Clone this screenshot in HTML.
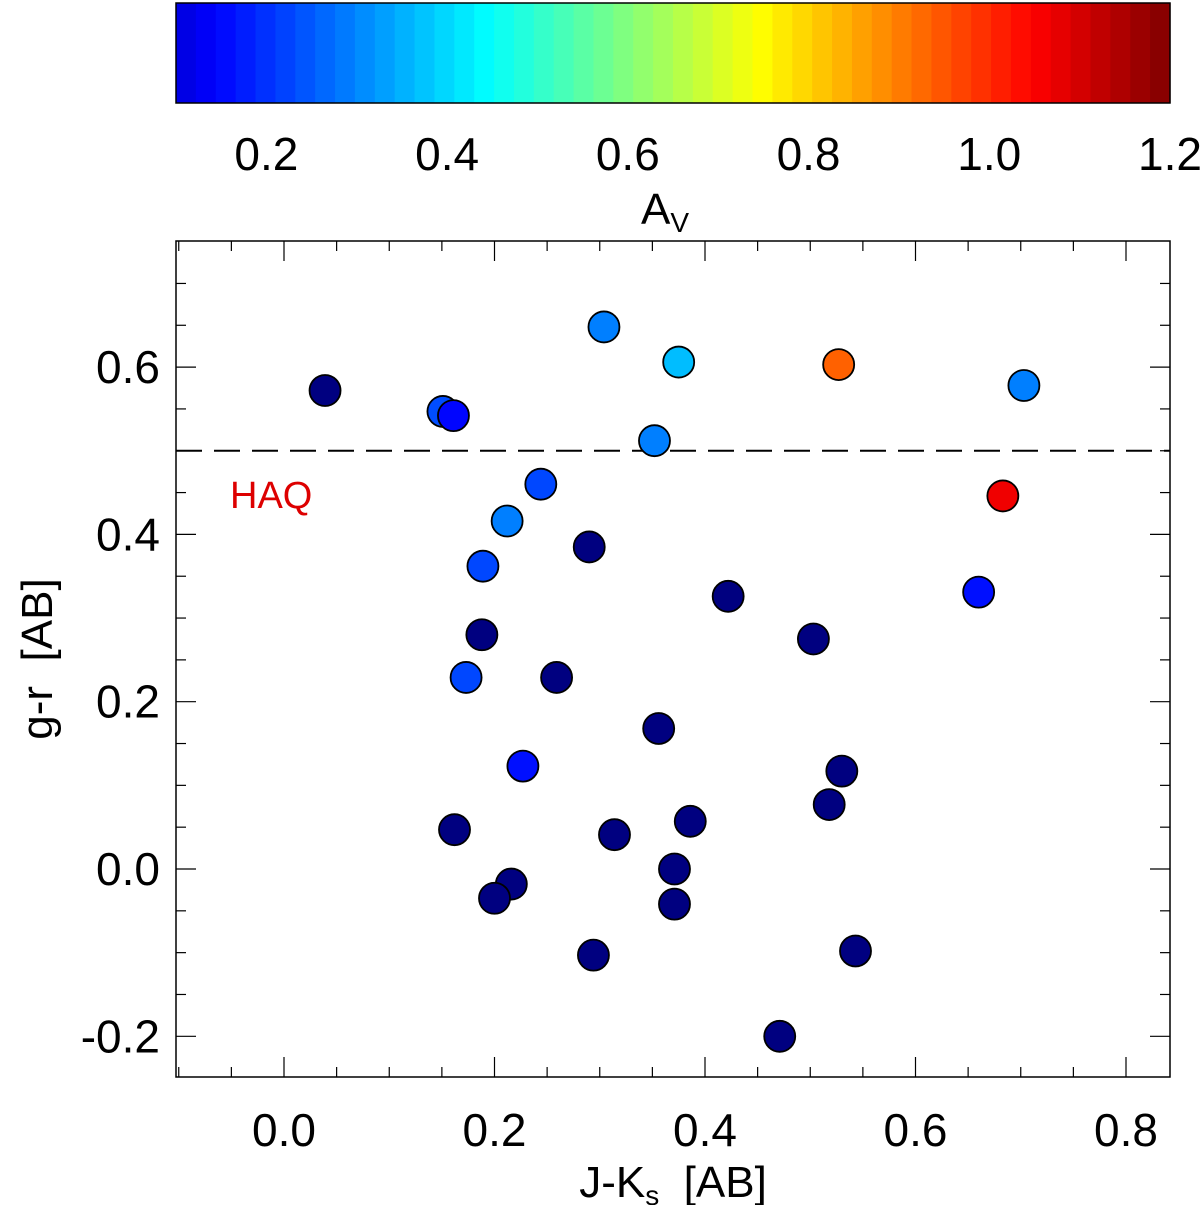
<!DOCTYPE html>
<html><head><meta charset="utf-8"><style>body{margin:0;background:#fff}svg{display:block;font-family:"Liberation Sans",sans-serif}</style></head>
<body>
<svg id="c" width="1200" height="1205"></svg>
<script>
const xVals=[0.039,0.151,0.161,0.304,0.375,0.527,0.703,0.352,0.244,0.212,0.29,0.189,0.422,0.66,0.683,0.188,0.503,0.173,0.259,0.356,0.227,0.53,0.518,0.162,0.314,0.386,0.371,0.216,0.2,0.371,0.294,0.543,0.471];
const yVals=[0.572,0.547,0.542,0.648,0.606,0.603,0.578,0.512,0.46,0.416,0.385,0.362,0.326,0.331,0.446,0.28,0.275,0.229,0.229,0.168,0.123,0.117,0.077,0.047,0.041,0.057,0.0,-0.018,-0.035,-0.042,-0.103,-0.098,-0.2];
const avVals=[0.05,0.233,0.148,0.293,0.366,0.934,0.293,0.293,0.227,0.293,0.05,0.227,0.05,0.16,1.067,0.05,0.05,0.227,0.05,0.05,0.16,0.05,0.05,0.05,0.05,0.05,0.05,0.05,0.05,0.05,0.05,0.05,0.05];
const xTicks=[0.0,0.2,0.4,0.6,0.8];
const yTicks=[-0.2,0.0,0.2,0.4,0.6];
const cbTicks=[0.2,0.4,0.6,0.8,1.0,1.2];
const NS='http://www.w3.org/2000/svg',svg=document.getElementById('c');
const L=176,R=1170,T=241,B=1077;
const sx=v=>284+v*1052.5, sy=v=>869-v*836.5;
const cx=v=>176+(v-0.1)/1.1*994;
function mk(t,a,p){const e=document.createElementNS(NS,t);for(const k in a)e.setAttribute(k,a[k]);(p||svg).appendChild(e);return e;}
function jet(t){t=Math.max(0,Math.min(1,t));const f=x=>Math.round(255*Math.max(0,Math.min(1,1.5-Math.abs(4*t-x))));return `rgb(${f(3)},${f(2)},${f(1)})`;}
const avc=v=>v<0.1?'#000080':jet(0.09+0.91*(v-0.1)/1.1);
const cb=mk('g',{});


const nb=50;
for(let i=0;i<nb;i++){mk('rect',{x:176+i*994/nb,y:3,width:994/nb+0.6,height:100,fill:jet(0.09+0.91*(i+0.5)/nb)},cb);}
mk('rect',{x:176,y:3,width:994,height:100,fill:'none',stroke:'#000','stroke-width':1.5},cb);
cbTicks.forEach(v=>{const t=mk('text',{x:cx(v),y:170,'font-size':46,'text-anchor':'middle'});t.textContent=v.toFixed(1);

});
const ct=mk('text',{x:665,y:224,'font-size':44,'text-anchor':'middle'});ct.innerHTML='A<tspan font-size="28" dy="8">V</tspan>';


const fr=mk('rect',{x:L,y:T,width:R-L,height:B-T,fill:'none',stroke:'#000','stroke-width':1.5});


for(let v=-0.1;v<=0.85;v+=0.05){const p=sx(v);if(p<L-1||p>R+1)continue;const maj=Math.abs(v*5-Math.round(v*5))<1e-6;const h=maj?20:10;
mk('line',{x1:p,y1:B,x2:p,y2:B-h,stroke:'#000','stroke-width':1.2});mk('line',{x1:p,y1:T,x2:p,y2:T+h,stroke:'#000','stroke-width':1.2});}
for(let v=-0.25;v<=0.75;v+=0.05){const p=sy(v);if(p<T-1||p>B+1)continue;const maj=Math.abs(v*5-Math.round(v*5))<1e-6;const h=maj?20:10;
mk('line',{x1:L,y1:p,x2:L+h,y2:p,stroke:'#000','stroke-width':1.2});mk('line',{x1:R,y1:p,x2:R-h,y2:p,stroke:'#000','stroke-width':1.2});}
xTicks.forEach(v=>{const t=mk('text',{x:sx(v),y:1146,'font-size':46,'text-anchor':'middle'});t.textContent=v.toFixed(1);

});
yTicks.forEach(v=>{const t=mk('text',{x:160,y:sy(v)+16,'font-size':46,'text-anchor':'end'});t.textContent=v.toFixed(1);

});
const xt=mk('text',{x:673,y:1197,'font-size':44,'text-anchor':'middle'});xt.innerHTML='J-K<tspan font-size="28" dy="8">s</tspan><tspan dy="-8">\u00a0\u00a0[AB]</tspan>';


const yt=mk('text',{x:52,y:659,'font-size':44,'text-anchor':'middle',transform:'rotate(-90 52 659)'});yt.textContent='g-r\u00a0\u00a0[AB]';


const dl=mk('line',{x1:L,y1:sy(0.5),x2:R,y2:sy(0.5),stroke:'#000','stroke-width':2,'stroke-dasharray':'26,12'});


const hq=mk('text',{x:230,y:508,'font-size':38,fill:'#dd0000'});hq.textContent='HAQ';


xVals.forEach((x,i)=>{const c=mk('circle',{cx:sx(x),cy:sy(yVals[i]),r:15.5,fill:avc(avVals[i]),stroke:'#000','stroke-width':1.8});

});
</script>
</body></html>
